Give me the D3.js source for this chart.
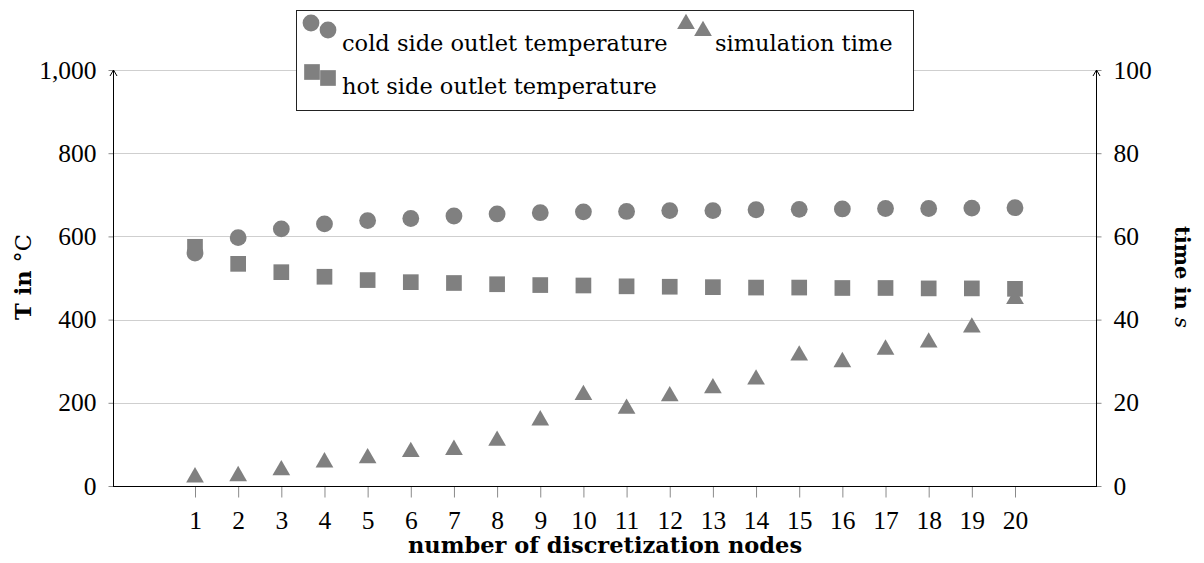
<!DOCTYPE html>
<html>
<head>
<meta charset="utf-8">
<script src="https://cdn.jsdelivr.net/npm/d3@7"></script>
<style>
  body { margin: 0; background: #fff; }
  svg { display: block; }
  .num { font-family: "Liberation Serif", serif; font-size: 25.5px; fill: #000; }
  .lbl { font-family: "DejaVu Serif", serif; font-size: 22.5px; fill: #000; }
</style>
</head>
<body>
<svg id="chart" width="1204" height="563"></svg>
<script>
// Discretization study: outlet temperatures (left axis) and run time (right axis)
const nodes = [1, 2, 3, 4, 5, 6, 7, 8, 9, 10, 11, 12, 13, 14, 15, 16, 17, 18, 19, 20];
const coldOutlet = [560, 597, 618, 630, 638, 643, 649, 654, 657, 659, 660, 662, 662, 664, 665, 666, 667, 667, 668, 669];
const hotOutlet = [575, 534, 514, 503, 495, 490, 488, 485, 483, 482, 480, 479, 478, 477, 477, 476, 476, 475, 475, 474];
const simTime = [2.1, 2.4, 3.8, 5.7, 6.7, 8.2, 8.7, 10.9, 15.8, 21.9, 18.6, 21.6, 23.5, 25.6, 31.4, 29.8, 32.8, 34.5, 38.1, 45.0];
const tempTicks = [0, 200, 400, 600, 800, 1000];
const timeTicks = [0, 20, 40, 60, 80, 100];

const markColor = "#808080";
const svg = d3.select("#chart");

const plotL = 113, plotR = 1097, plotT = 70, plotB = 486;
const x = d3.scaleLinear().domain([1 - 1.9, 20 + 1.9]).range([plotL, plotR]);
const yT = d3.scaleLinear().domain([0, 1000]).range([plotB, plotT]);
const yS = d3.scaleLinear().domain([0, 100]).range([plotB, plotT]);

// horizontal grid
svg.append("g").selectAll("line").data(tempTicks).join("line")
  .attr("x1", plotL).attr("x2", plotR)
  .attr("y1", d => Math.round(yT(d)) + 0.5).attr("y2", d => Math.round(yT(d)) + 0.5)
  .attr("stroke", "#cfcfcf").attr("stroke-width", 1);

// left axis
const gL = svg.append("g").attr("transform", `translate(${plotL + 0.5},0)`)
  .call(d3.axisLeft(yT).tickValues(tempTicks).tickFormat(d3.format(",")).tickSize(5).tickPadding(12));
// right axis
const gR = svg.append("g").attr("transform", `translate(${plotR - 0.5},0)`)
  .call(d3.axisRight(yS).tickValues(timeTicks).tickFormat(d3.format("d")).tickSize(5).tickPadding(12));
// bottom axis
const gB = svg.append("g").attr("transform", `translate(0,${plotB + 0.5})`)
  .call(d3.axisBottom(x).tickValues(nodes).tickFormat(d3.format("d")).tickSize(11).tickPadding(13));

[gL, gR, gB].forEach(g => {
  g.select(".domain").remove();
  g.selectAll(".tick line").attr("stroke", "#8a8a8a");
  g.selectAll(".tick text").attr("class", "num").attr("font-family", null).attr("font-size", null);
});

// axis lines with arrow tips
const axes = svg.append("g").attr("stroke", "#000").attr("stroke-width", 1).attr("fill", "none");
axes.append("line").attr("x1", plotL).attr("x2", plotR).attr("y1", plotB + 0.5).attr("y2", plotB + 0.5);
[plotL + 0.5, plotR - 0.5].forEach(ax => {
  axes.append("line").attr("x1", ax).attr("x2", ax).attr("y1", plotB + 0.5).attr("y2", plotT);
  axes.append("path").attr("d", `M${ax - 3.5},${plotT + 6} L${ax},${plotT} L${ax + 3.5},${plotT + 6}`);
});

// markers
const circle = d3.symbol(d3.symbolCircle, 222)();
const square = d3.symbol(d3.symbolSquare, 246)();
const tri = d3.symbol(d3.symbolTriangle, 136)();

const marks = svg.append("g").attr("fill", markColor);
marks.selectAll(".cold").data(nodes).join("path").attr("class", "cold")
  .attr("d", circle).attr("transform", (d, i) => `translate(${x(d)},${yT(coldOutlet[i])})`);
marks.selectAll(".hot").data(nodes).join("path").attr("class", "hot")
  .attr("d", square).attr("transform", (d, i) => `translate(${x(d)},${yT(hotOutlet[i])})`);
marks.selectAll(".time").data(nodes).join("path").attr("class", "time")
  .attr("d", tri).attr("transform", (d, i) => `translate(${x(d)},${yS(simTime[i])})`);

// axis titles
svg.append("text").attr("class", "lbl").attr("text-anchor", "middle")
  .attr("x", (plotL + plotR) / 2).attr("y", 553)
  .attr("font-weight", "bold").text("number of discretization nodes");

const tl = svg.append("text").attr("class", "lbl").attr("text-anchor", "middle")
  .attr("transform", `translate(31,277) rotate(-90)`);
tl.append("tspan").attr("font-weight", "bold").text("T in ");
tl.append("tspan").text("°C");

const tr = svg.append("text").attr("class", "lbl").attr("text-anchor", "middle")
  .style("font-size", "21px")
  .attr("transform", `translate(1175,277) rotate(90)`);
tr.append("tspan").attr("font-weight", "bold").text("time in ");
tr.append("tspan").attr("font-style", "italic").text("s");

// legend
const leg = svg.append("g");
leg.append("rect").attr("x", 296.5).attr("y", 10.5).attr("width", 617).attr("height", 100)
  .attr("fill", "#fff").attr("stroke", "#222").attr("stroke-width", 1);
const entries = [
  { sym: circle, pts: [[311, 23], [328, 30]], tx: 342, ty: 51, label: "cold side outlet temperature" },
  { sym: tri, pts: [[686, 24], [703, 31]], tx: 715, ty: 51, label: "simulation time" },
  { sym: square, pts: [[312, 72], [328, 78]], tx: 342, ty: 94, label: "hot side outlet temperature" }
];
entries.forEach(e => {
  leg.selectAll(null).data(e.pts).join("path").attr("d", e.sym).attr("fill", markColor)
    .attr("transform", p => `translate(${p[0]},${p[1]})`);
  leg.append("text").attr("class", "lbl").attr("x", e.tx).attr("y", e.ty).text(e.label);
});
</script>
</body>
</html>
